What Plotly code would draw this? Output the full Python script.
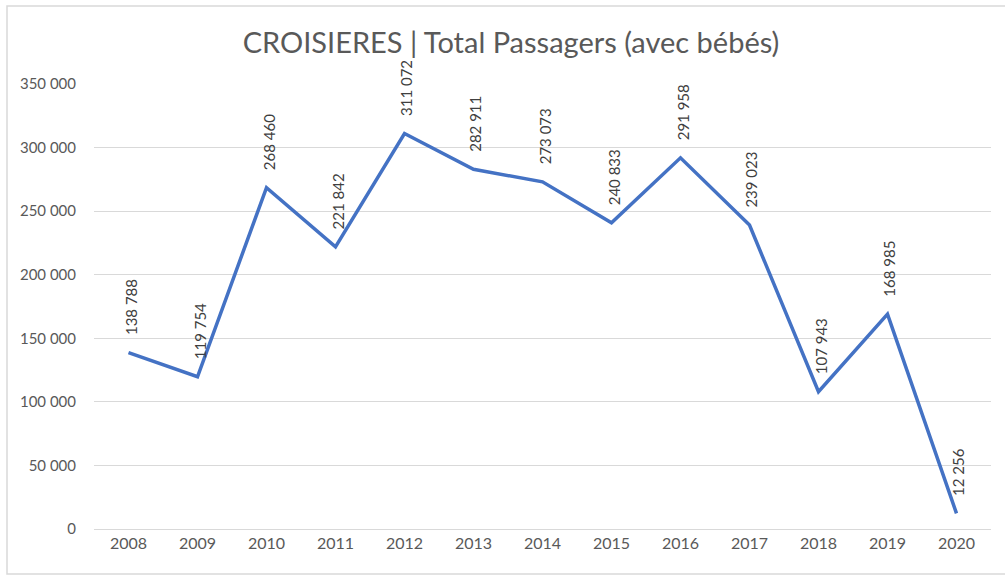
import plotly.graph_objects as go

years = ["2008", "2009", "2010", "2011", "2012", "2013", "2014", "2015", "2016", "2017", "2018", "2019", "2020"]
passengers = [138788, 119754, 268460, 221842, 311072, 282911, 273073, 240833, 291958, 239023, 107943, 168985, 12256]
y_ticks = [0, 50000, 100000, 150000, 200000, 250000, 300000, 350000]
title_text = "CROISIERES | Total Passagers (avec bébés)"


def fmt(v):
    return f"{v:,}".replace(",", " ")


W, H = 1005, 575
ml, mr, mt, mb = 94, 14, 84, 46
FONT = "Lato, Carlito, sans-serif"

fig = go.Figure()
fig.add_trace(go.Scatter(
    x=list(range(len(years))), y=passengers, mode="lines",
    line=dict(color="#4472C4", width=3.5),
    hoverinfo="skip", showlegend=False,
))

for i, v in enumerate(passengers):
    fig.add_annotation(
        x=i, y=v, text=fmt(v), textangle=-90, showarrow=False,
        xanchor="center", yanchor="bottom", yshift=15, xshift=2,
        font=dict(family=FONT, size=15, color="#404040"),
    )

pw = W - ml - mr
ph = H - mt - mb
fig.add_shape(
    type="rect", xref="paper", yref="paper",
    x0=(7 - ml) / pw, x1=(1010 - ml) / pw,
    y0=-(574 - mt - ph) / ph, y1=(H - 6 - mb) / ph,
    line=dict(color="#d9d9d9", width=1.5), fillcolor="rgba(0,0,0,0)", layer="below",
)

fig.update_layout(
    width=W, height=H,
    margin=dict(l=ml, r=mr, t=mt, b=mb),
    paper_bgcolor="white", plot_bgcolor="white",
    title=dict(text=title_text, x=511 / W, xanchor="center", xref="container",
               y=1 - 43 / H, yanchor="middle",
               font=dict(family=FONT, size=29, color="#595959")),
    font=dict(family=FONT, size=15, color="#595959"),
    xaxis=dict(range=[-0.5, 12.5], tickvals=list(range(len(years))), ticktext=years,
               showgrid=False, showline=True, linecolor="#d9d9d9", linewidth=1, ticks="",
               tickfont=dict(size=16, color="#595959"), zeroline=False, fixedrange=True),
    yaxis=dict(range=[0, 350000], tickvals=y_ticks, ticktext=[fmt(t) for t in y_ticks],
               showgrid=True, gridcolor="#d9d9d9", gridwidth=1, zeroline=False,
               showline=False, ticks="", ticklabelstandoff=17,
               tickfont=dict(size=15, color="#595959"), fixedrange=True),
)

fig.write_html("out.html", config={"displayModeBar": False},
               post_script="document.body.style.margin='0';")
